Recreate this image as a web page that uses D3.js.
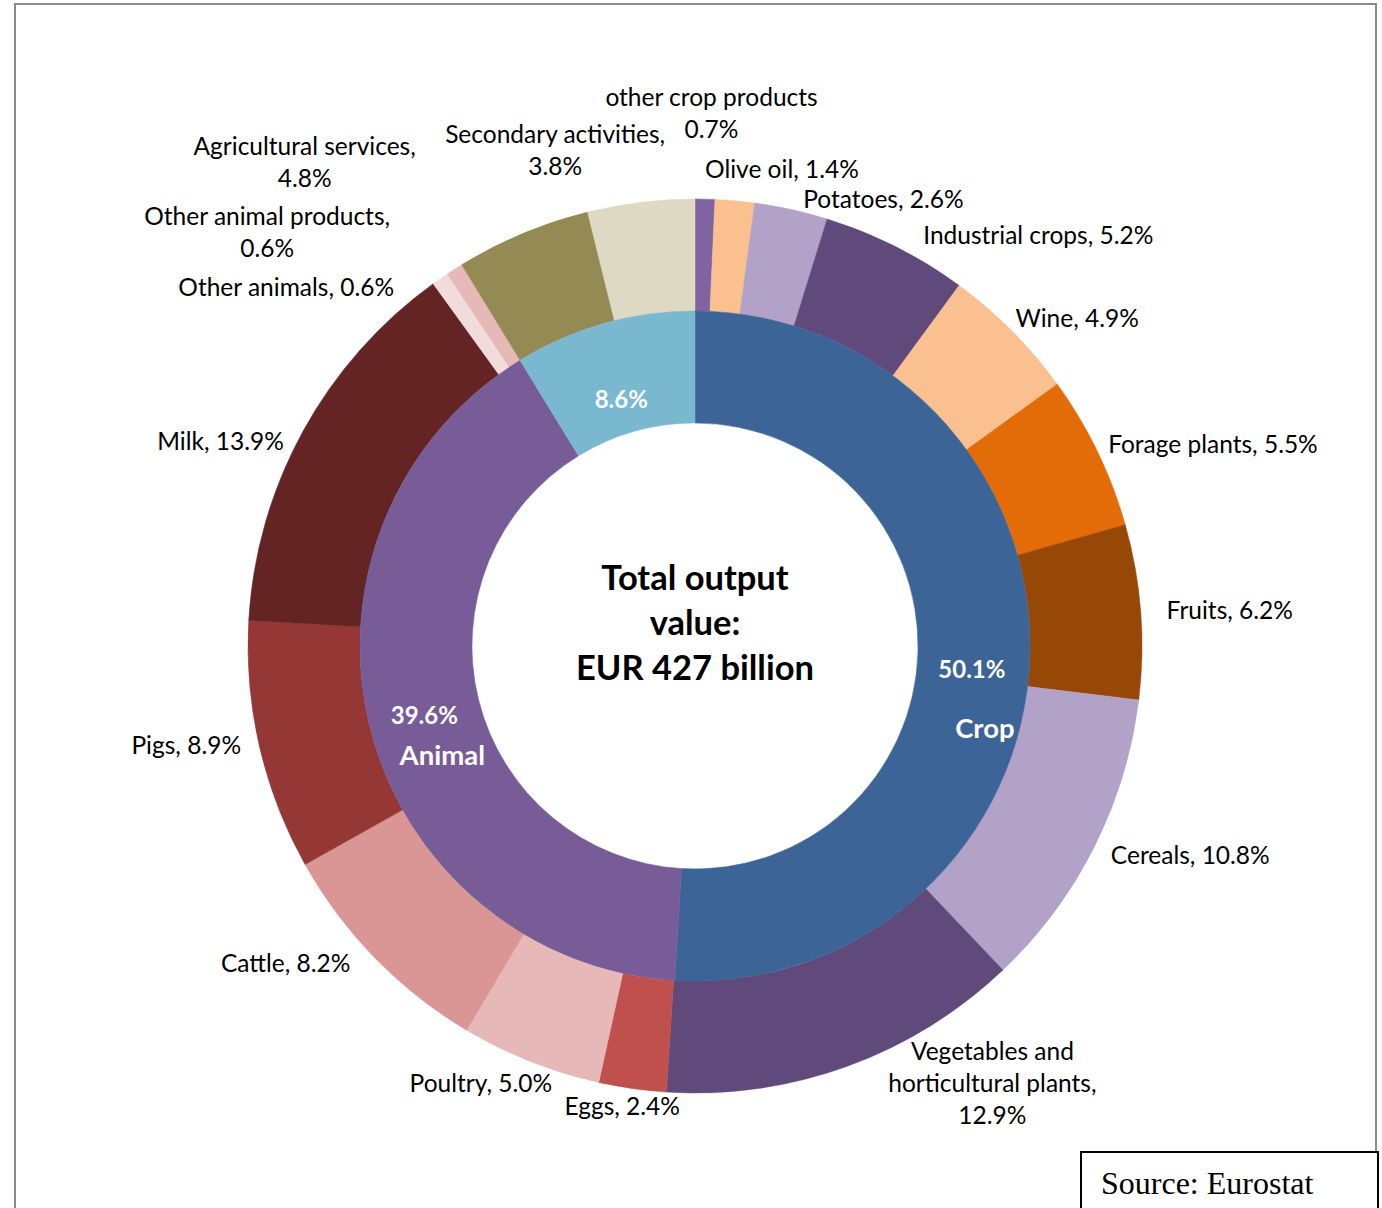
<!DOCTYPE html>
<html>
<head>
<meta charset="utf-8">
<script src="https://cdn.jsdelivr.net/npm/d3@7"></script>
<style>
  html, body { margin: 0; padding: 0; background: #fff; }
  svg { display: block; }
</style>
</head>
<body>
<svg id="chart" width="1382" height="1208"></svg>
<script>
// Outer ring: detailed products and activities, clockwise from 12 o'clock (% of total output)
const outerCategories = ["other crop products", "Olive oil", "Potatoes", "Industrial crops", "Wine",
  "Forage plants", "Fruits", "Cereals", "Vegetables and horticultural plants", "Eggs", "Poultry",
  "Cattle", "Pigs", "Milk", "Other animals", "Other animal products", "Agricultural services",
  "Secondary activities"];
const outerValues = [0.7, 1.4, 2.6, 5.2, 4.9, 5.5, 6.2, 10.8, 12.9, 2.4, 5.0, 8.2, 8.9, 13.9, 0.6, 0.6, 4.8, 3.8];
const outerColors = ["#8064A2", "#FAC090", "#B3A2C7", "#604A7B", "#FAC090", "#E36C09", "#974806",
  "#B3A2C7", "#604A7B", "#C0504D", "#E6B9B8", "#D99694", "#953735", "#632423", "#F2DCDB",
  "#E6B9B8", "#948A54", "#DDD9C3"];
// Label text preceding the value; "\n" breaks the label onto a new line
const outerLabelText = ["other crop products\n", "Olive oil, ", "Potatoes, ", "Industrial crops, ", "Wine, ",
  "Forage plants, ", "Fruits, ", "Cereals, ", "Vegetables and\nhorticultural plants,\n", "Eggs, ",
  "Poultry, ", "Cattle, ", "Pigs, ", "Milk, ", "Other animals, ", "Other animal products,\n",
  "Agricultural services,\n", "Secondary activities,\n"];

// Inner ring: main groups
const innerCategories = ["Crop", "Animal", "Services and secondary activities"];
const innerValues = [50.1, 39.6, 8.6];
const innerColors = ["#3C6496", "#775C98", "#7AB8CF"];
const innerShowName = [true, true, false];

const centerTitle = ["Total output", "value:", "EUR 427 billion"];
const sourceText = "Source: Eurostat";

// ---- layout ----
const W = 1382, H = 1208;
const cx = 695, cy = 646;
const rHole = 223, rMid = 335, rOuter = 447, rLabel = 470;
const FONT = "Lato, 'Open Sans', sans-serif";
const labelSize = 24.5, lineH = 32;

// hand-tuned offsets for label blocks (px)
const outerNudge = [[6, -63], [45, -8], [7, 12], [17, 9], [-13, 4], [-10, 3], [3, 0], [-4, -2], [33, -4],
  [-7, -5], [30, 0], [-8, -11], [4, -6], [1, 21], [-33, 28], [-52, -17], [-98, -50], [-83, -29]];
const innerValueNudge = [[-2, 15], [0, 2], [2, 22]];
const innerNameNudge = [[11, 74], [18, 42], [0, 0]];

const svg = d3.select("#chart");

// frame
svg.append("rect")
  .attr("x", 15).attr("y", 4).attr("width", 1361).attr("height", H + 10)
  .attr("fill", "#fff").attr("stroke", "#898989").attr("stroke-width", 2);

const g = svg.append("g").attr("transform", `translate(${cx},${cy})`);
const pie = d3.pie().sort(null).value(d => d);

const outerArcs = pie(outerValues);
const innerArcs = pie(innerValues);

const arcOuter = d3.arc().innerRadius(rMid).outerRadius(rOuter);
const arcInner = d3.arc().innerRadius(rHole).outerRadius(rMid);

g.selectAll("path.outer").data(outerArcs).join("path")
  .attr("class", "outer")
  .attr("d", arcOuter)
  .attr("fill", (d, i) => outerColors[i])
  .attr("stroke", (d, i) => outerColors[i]).attr("stroke-width", 0.5);

g.selectAll("path.inner").data(innerArcs).join("path")
  .attr("class", "inner")
  .attr("d", arcInner)
  .attr("fill", (d, i) => innerColors[i])
  .attr("stroke", (d, i) => innerColors[i]).attr("stroke-width", 0.5);

// outer labels: block placed outside the ring along the slice's mid angle
const fmt = v => v.toFixed(1) + "%";
const labelG = g.append("g")
  .attr("font-family", FONT).attr("font-size", labelSize).attr("fill", "#000");

outerArcs.forEach((a, i) => {
  const lines = (outerLabelText[i] + fmt(outerValues[i])).split("\n").map(s => s.trim());
  const mid = (a.startAngle + a.endAngle) / 2;
  const s = Math.sin(mid), c = Math.cos(mid);
  const ax = rLabel * s + outerNudge[i][0];
  const ay = -rLabel * c + outerNudge[i][1];

  const block = labelG.append("g");
  const texts = lines.map((t, k) => block.append("text")
    .attr("text-anchor", "middle")
    .attr("y", ay + (k - (lines.length - 1) / 2) * lineH)
    .attr("dy", "0.35em")
    .text(t));
  const w = d3.max(texts, t => t.node().getComputedTextLength());
  let x0;
  if (s > 0.15) x0 = ax;
  else if (s < -0.15) x0 = ax - w;
  else x0 = ax - w / 2;
  texts.forEach(t => t.attr("x", x0 + w / 2));
});

// inner labels (white, bold)
const centroidArc = d3.arc().innerRadius((rHole + rMid) / 2).outerRadius((rHole + rMid) / 2);
const innerLabelG = g.append("g")
  .attr("font-family", FONT).attr("font-weight", "bold").attr("fill", "#fff")
  .attr("text-anchor", "middle");

innerArcs.forEach((a, i) => {
  const [px, py] = centroidArc.centroid(a);
  innerLabelG.append("text")
    .attr("x", px + innerValueNudge[i][0]).attr("y", py + innerValueNudge[i][1])
    .attr("dy", "0.35em").attr("font-size", 24)
    .text(fmt(innerValues[i]));
  if (innerShowName[i]) {
    innerLabelG.append("text")
      .attr("x", px + innerNameNudge[i][0]).attr("y", py + innerNameNudge[i][1])
      .attr("dy", "0.35em").attr("font-size", 27.5)
      .text(innerCategories[i]);
  }
});

// centre title
g.append("g")
  .attr("font-family", FONT).attr("font-weight", "bold").attr("font-size", 34.5)
  .attr("text-anchor", "middle").attr("fill", "#000")
  .selectAll("text").data(centerTitle).join("text")
  .attr("x", 0)
  .attr("y", (d, i) => -23 + (i - 1) * 45)
  .attr("dy", "0.35em")
  .text(d => d);

// source box
svg.append("rect")
  .attr("x", 1081).attr("y", 1152).attr("width", 297).attr("height", 80)
  .attr("fill", "#fff").attr("stroke", "#000").attr("stroke-width", 2);
svg.append("text")
  .attr("x", 1101).attr("y", 1194)
  .attr("font-family", "'Liberation Serif', 'Times New Roman', serif")
  .attr("font-size", 32).attr("fill", "#000")
  .text(sourceText);
</script>
</body>
</html>
